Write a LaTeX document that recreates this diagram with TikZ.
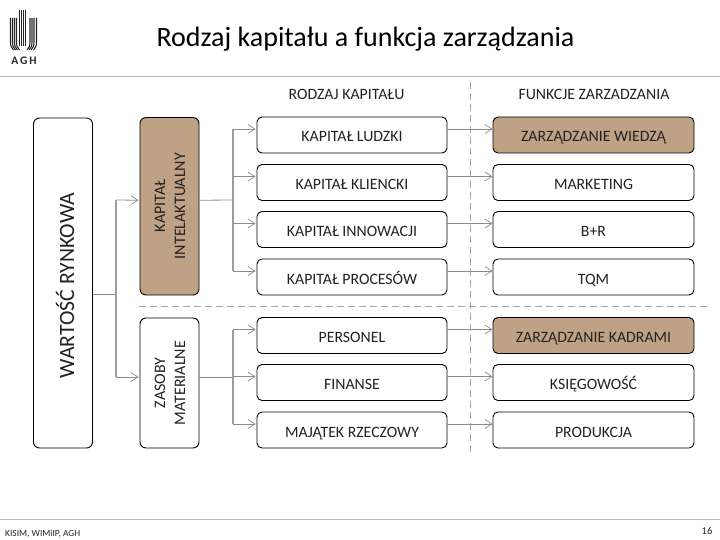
\documentclass[tikz,border=0pt]{standalone}
\usepackage{fontspec}
\setmainfont{Carlito}
\usetikzlibrary{arrows.meta}
\definecolor{tan}{HTML}{BFA285}
\definecolor{ink}{HTML}{222222}
\definecolor{wire}{HTML}{8C8C8C}
\definecolor{rule}{HTML}{BDBDBD}
\tikzset{
  x=1pt,y=-1pt,
  cbox/.style={draw=black,line width=0.9pt,rounded corners=5pt,fill=white,minimum width=190pt,minimum height=36pt,inner sep=0pt,text=ink,font=\fontsize{15.8}{17}\selectfont,text height=14pt,text depth=0pt},
  fbox/.style={cbox,minimum width=201pt},
  vbox/.style={draw=black,line width=0.9pt,rounded corners=6pt,fill=white,minimum width=59pt,inner sep=0pt},
  vtext/.style={rotate=90,align=center,text=ink,inner sep=0pt,font=\fontsize{16}{20}\selectfont},
  hi/.style={fill=tan},
  head/.style={text=ink,inner sep=0pt,font=\fontsize{15.8}{17}\selectfont,text height=10pt,text depth=0pt},
  link/.style={draw=wire,line width=0.8pt,-{Straight Barb[length=7pt,width=9pt,line width=0.7pt]}},
  plain/.style={draw=wire,line width=0.8pt},
  trunk/.style={draw=wire!85,line width=1.2pt},
  sep/.style={draw=wire!80,line width=0.7pt,dash pattern=on 7pt off 4pt},
  rl/.style={draw=rule,line width=1pt},
}
\begin{document}
\begin{tikzpicture}
\useasboundingbox (0,0) rectangle (720,540);
% frame
\coordinate (ta) at (0,77); \coordinate (tb) at (720,77);
\coordinate (ba) at (0,519); \coordinate (bb) at (720,519);
\draw[rl] (ta) -- (tb);
\draw[rl] (ba) -- (bb);
\node[text=black,inner sep=0pt,font=\fontsize{28}{30}\selectfont] (title) at (365.5,39) {Rodzaj kapitału a funkcja zarządzania};
\node[anchor=west,text=ink,inner sep=0pt,font=\fontsize{9.4}{10}\selectfont] (foot) at (5,533.5) {KISIM, WIMiIP, AGH};
\node[text=ink,inner sep=0pt,font=\fontsize{10.5}{11}\selectfont] (page) at (707,531) {16};
% logo
\foreach \x in {10.5,12.5,14.5,16.5}{\draw[black!85,line width=1.1pt] (\x,18) -- (\x,42) .. controls (\x,46) and (\x+1,48) .. (\x+3,50);}
\foreach \x in {19.5,21.5,23.5,25.5}{\draw[black!85,line width=1.1pt] (\x,10) -- (\x,46);}
\foreach \x in {30,32,34,36.5}{\draw[black!85,line width=1.1pt] (\x,18) -- (\x,42) .. controls (\x,46) and (\x-1,48) .. (\x-3,50);}
\node[text=black!85,inner sep=0pt,font=\fontsize{11.5}{12}\selectfont\bfseries] (agh) at (24,61) {A\,G\,H};
% separators
\coordinate (va) at (470,82); \coordinate (vb) at (470,456);
\coordinate (ha) at (139,306); \coordinate (hb) at (707,306);
\draw[sep] (va) -- (vb);
\draw[sep] (ha) -- (hb);
% headers
\node[head] (h1) at (346.5,95) {RODZAJ KAPITAŁU};
\node[head] (h2) at (594,95) {FUNKCJE ZARZADZANIA};
% left boxes
\node[vbox,minimum height=330pt] (w) at (63,283) {};
\node[vtext,font=\fontsize{21.8}{24}\selectfont] (wt) at (65,285.5) {WARTOŚĆ RYNKOWA};
\node[vbox,hi,minimum height=177.5pt] (ki) at (169.5,206.25) {};
\node[vtext] (kit) at (170,206) {KAPITAŁ\\INTELAKTUALNY};
\node[vbox,minimum height=130pt] (zm) at (169.5,383) {};
\node[vtext] (zmt) at (170,383) {ZASOBY\\MATERIALNE};
% capital boxes
\node[cbox] (c1) at (352,135) {KAPITAŁ LUDZKI};
\node[cbox] (c2) at (352,182.5) {KAPITAŁ KLIENCKI};
\node[cbox] (c3) at (352,229.5) {KAPITAŁ INNOWACJI};
\node[cbox] (c4) at (352,277) {KAPITAŁ PROCESÓW};
\node[cbox] (c5) at (352,335.5) {PERSONEL};
\node[cbox] (c6) at (352,382.5) {FINANSE};
\node[cbox] (c7) at (352,430) {MAJĄTEK RZECZOWY};
% function boxes
\node[fbox,hi] (f1) at (593.5,135) {ZARZĄDZANIE WIEDZĄ};
\node[fbox] (f2) at (593.5,182.5) {MARKETING};
\node[fbox] (f3) at (593.5,229.5) {B+R};
\node[fbox] (f4) at (593.5,277) {TQM};
\node[fbox,hi] (f5) at (593.5,335.5) {ZARZĄDZANIE KADRAMI};
\node[fbox] (f6) at (593.5,382.5) {KSIĘGOWOŚĆ};
\node[fbox] (f7) at (593.5,430) {PRODUKCJA};
% capital to function
\foreach \i in {1,...,7}{\draw[link] ([yshift=6pt]c\i.east) -- ([yshift=6pt]f\i.west);}
% market value to groups
\coordinate (wj) at (116,294);
\coordinate (wu) at (116,200);
\coordinate (wd) at (116,377);
\draw[plain] ([yshift=-11pt]w.east) -- (wj);
\draw[trunk] (wu) -- (wd);
\draw[link] (wu) -- ([yshift=6pt,xshift=-1pt]ki.west);
\draw[link] (wd) -- ([yshift=6pt,xshift=-1pt]zm.west);
% groups to capital
\coordinate (kj) at (233,200);
\coordinate (ku) at (233,129);
\coordinate (kd) at (233,271);
\draw[plain] ([yshift=6pt]ki.east) -- (kj);
\draw[trunk] (ku) -- (kd);
\foreach \i in {1,...,4}{\draw[link] (c\i.west -| kj) ++(0,-6) -- ([yshift=6pt,xshift=-1pt]c\i.west);}
\coordinate (zu) at (233,330);
\coordinate (zd) at (233,424);
\draw[plain] ([yshift=6pt]zm.east) -- (233,377);
\draw[trunk] (zu) -- (zd);
\foreach \i in {5,6,7}{\draw[link] (c\i.west -| zu) ++(0,-6) -- ([yshift=6pt,xshift=-1pt]c\i.west);}
\end{tikzpicture}
\end{document}
